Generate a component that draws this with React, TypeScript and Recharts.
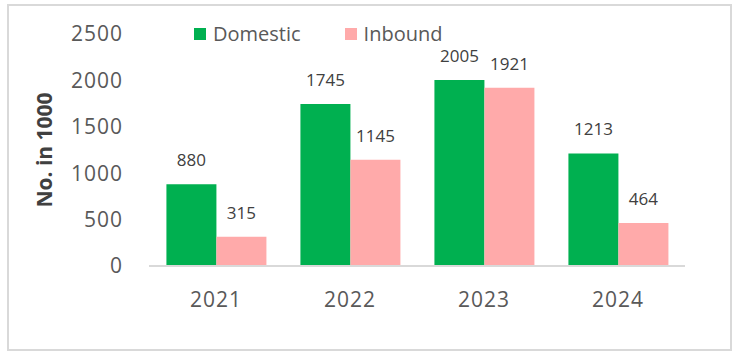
import { BarChart, Bar, XAxis, YAxis, LabelList } from "recharts";

// values
const years = ["2021", "2022", "2023", "2024"];
const domestic = [880, 1745, 2005, 1213];
const inbound = [315, 1145, 1921, 464];
const yTicks = [0, 500, 1000, 1500, 2000, 2500];

const data = years.map((year, i) => ({ year, domestic: domestic[i], inbound: inbound[i] }));

const GREEN = "#00B050";
const PINK = "#FFAAAA";
const FONT = "'Open Sans', 'DejaVu Sans', sans-serif";

function LegendBox() {
  const items = [
    { label: "Domestic", color: GREEN },
    { label: "Inbound", color: PINK },
  ];
  return (
    <div
      style={{
        position: "absolute",
        left: 194,
        top: 20,
        display: "flex",
        gap: 44,
        fontFamily: FONT,
        fontSize: 20,
        color: "#595959",
        lineHeight: "28px",
      }}
    >
      {items.map((it) => (
        <div key={it.label} style={{ display: "flex", alignItems: "center", gap: 7 }}>
          <span style={{ width: 12, height: 12, background: it.color, display: "inline-block" }} />
          <span>{it.label}</span>
        </div>
      ))}
    </div>
  );
}

export default function App() {
  return (
    <div style={{ position: "absolute", left: 0, top: 0, width: 740, height: 361, background: "#fff" }}>
      <div
        style={{
          position: "absolute",
          left: 7,
          top: 4,
          width: 721,
          height: 343,
          border: "2px solid #d9d9d9",
        }}
      />
      <BarChart
        width={740}
        height={361}
        data={data}
        margin={{ top: 34, right: 55, bottom: 55, left: 49 }}
        barCategoryGap="13%"
        barGap={0}
        style={{ position: "absolute", left: 0, top: 0 }}
      >
        <XAxis
          dataKey="year"
          height={40}
          tickLine={false}
          tickSize={0}
          tickMargin={26}
          axisLine={{ stroke: "#d9d9d9", strokeWidth: 2 }}
          tick={{ fill: "#595959", fontSize: 21, fontFamily: FONT, letterSpacing: 1 }}
        />
        <YAxis
          width={100}
          domain={[0, 2500]}
          ticks={yTicks}
          axisLine={false}
          tickLine={false}
          tickSize={0}
          tickMargin={26}
          tick={{ fill: "#595959", fontSize: 21, fontFamily: FONT, letterSpacing: 1 }}
          label={{
            content: () => (
              <text
                x={52}
                y={150}
                transform="rotate(-90 52 150)"
                textAnchor="middle"
                fill="#404040"
                fontFamily={FONT}
                fontWeight="bold"
                fontSize={21}
              >
                No. in 1000
              </text>
            ),
          }}
        />
        <Bar dataKey="domestic" name="Domestic" fill={GREEN} isAnimationActive={false}>
          <LabelList dataKey="domestic" position="top" offset={18} fill="#404040" fontSize={17} fontFamily={FONT} />
        </Bar>
        <Bar dataKey="inbound" name="Inbound" fill={PINK} isAnimationActive={false}>
          <LabelList dataKey="inbound" position="top" offset={18} fill="#404040" fontSize={17} fontFamily={FONT} />
        </Bar>
      </BarChart>
      <LegendBox />
    </div>
  );
}
